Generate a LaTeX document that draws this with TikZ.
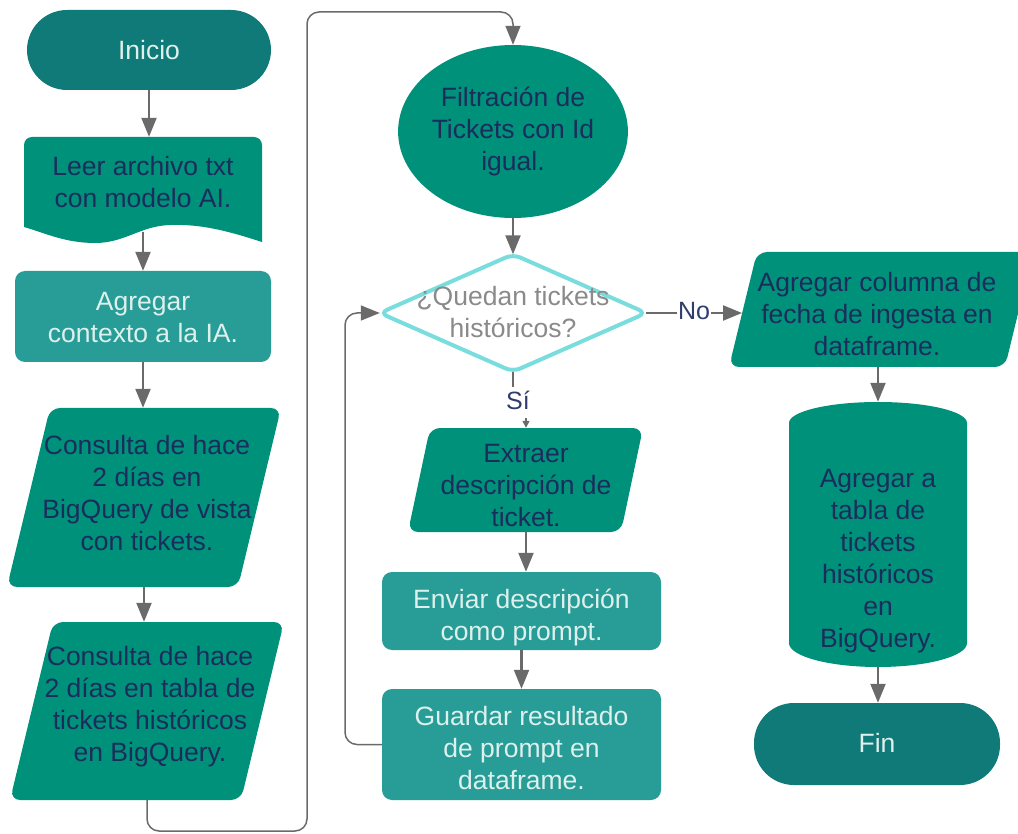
\documentclass[tikz,border=0pt]{standalone}
\usepackage{fontspec}
\setmainfont{Liberation Sans}
\usetikzlibrary{shapes.geometric,arrows.meta,calc}
\definecolor{cDark}{HTML}{107A78}
\definecolor{cMain}{HTML}{00917A}
\definecolor{cLight}{HTML}{289D98}
\definecolor{tNavy}{HTML}{1B2D5C}
\definecolor{tLight}{HTML}{DDF0EC}
\definecolor{cCyan}{HTML}{7ADDDD}
\definecolor{cGray}{HTML}{6A6A6A}
\definecolor{tGray}{HTML}{8A8A8A}
\definecolor{tLabel}{HTML}{2F3C6E}
\begin{document}
\begin{tikzpicture}[x=1pt,y=1pt,
  every node/.style={font=\fontsize{26.5}{32}\selectfont, align=center, inner sep=0pt},
  term/.style={fill=cDark, text=tLight, rounded corners=40},
  proc/.style={fill=cLight, rounded corners=10},
  frame/.style={draw=none},
  dtext/.style={text=tNavy},
  ltext/.style={text=tLight},
  gtext/.style={text=tGray},
  conn/.style={draw=cGray, line width=2.2pt, -{Triangle[width=15pt,length=19pt]}},
  loopc/.style={draw=cGray, line width=1.5pt, rounded corners=12, -{Triangle[width=15pt,length=19pt]}},
  plain/.style={draw=cGray, line width=2.2pt},
  lbl/.style={fill=white, text=tLabel, inner sep=1pt, font=\fontsize{25}{30}\selectfont}
]
\useasboundingbox (0,0) rectangle (1018,-834);

% ---------- left column ----------
\node[term, minimum width=244, minimum height=80] (ini) at (149,-50) {Inicio};

\node[frame, minimum width=238, minimum height=105] (leer) at (143,-189.5) {};
\fill[cMain] (24,-227) [rounded corners=8] -- (24,-137) -- (262,-137) [sharp corners] -- (262,-242)
  .. controls (225,-230) and (200,-224) .. (170,-225)
  .. controls (140,-226) and (125,-243) .. (95,-243)
  .. controls (65,-243) and (45,-233) .. (24,-227) -- cycle;
\node[dtext] (leerT) at (143,-182) {Leer archivo txt\\con modelo AI.};
\coordinate (leerB) at (143,-232);

\node[proc, minimum width=256, minimum height=91] (ctx) at (143,-316.5) {};
\node[ltext] (ctxT) at (143,-318) {Agregar\\contexto a la IA.};

\node[frame, minimum width=274, minimum height=179] (c1) at (144,-497.5) {};
\fill[cMain, rounded corners=10] (50,-408) -- (281,-408) -- (238,-587) -- (7,-587) -- cycle;
\node[dtext] (c1T) at (147,-493) {Consulta de hace\\2 días en\\BigQuery de vista\\con tickets.};

\node[frame, minimum width=274, minimum height=178] (c2) at (147,-711) {};
\fill[cMain, rounded corners=10] (53,-622) -- (284,-622) -- (241,-800) -- (10,-800) -- cycle;
\node[dtext] (c2T) at (150,-707) {Consulta de hace\\2 días en tabla de\\tickets históricos\\en BigQuery.};

% ---------- middle column ----------
\node[ellipse, fill=cMain, text=tNavy, minimum width=220, minimum height=173] (fil) at (513,-131.5) {Filtración de\\Tickets con Id\\igual.};

\node[frame, minimum width=266, minimum height=117] (dia) at (513,-313) {};
\draw[cCyan, line width=4pt, fill=white, rounded corners=8] (dia.north) -- (dia.east) -- (dia.south) -- (dia.west) -- cycle;
\node[gtext] (diaT) at (513,-312) {¿Quedan tickets\\históricos?};

\node[frame, minimum width=235, minimum height=104] (ext) at (525.5,-480) {};
\fill[cMain, rounded corners=10] (430,-428) -- (643,-428) -- (621,-532) -- (408,-532) -- cycle;
\node[dtext] (extT) at (526,-486) {Extraer\\descripción de\\ticket.};

\node[proc, minimum width=279, minimum height=78] (env) at (521.5,-611) {};
\node[ltext] (envT) at (521.5,-617) {Enviar descripción\\como prompt.};
\node[proc, minimum width=279, minimum height=111] (gua) at (521.5,-744.5) {};
\node[ltext] (guaT) at (521.5,-748.5) {Guardar resultado\\de prompt en\\dataframe.};

% ---------- right column ----------
\node[frame, minimum width=290, minimum height=115] (col) at (873,-309.5) {};
\fill[cMain, rounded corners=10] (757,-252) -- (1033,-252) -- (1005,-367) -- (729,-367) -- cycle;
\node[dtext] (colT) at (877,-314) {Agregar columna de\\fecha de ingesta en\\dataframe.};

\node[frame, minimum width=178, minimum height=265] (cyl) at (878,-534.5) {};
\fill[cMain] (789,-423) -- (789,-643) arc[start angle=180, end angle=360, x radius=89, y radius=24]
  -- (967,-423) arc[start angle=0, end angle=180, x radius=89, y radius=21] -- cycle;
\node[dtext] (cylT) at (878,-561) {Agregar a\\tabla de\\tickets\\históricos\\en\\BigQuery.};

\node[term, minimum width=246, minimum height=82] (fin) at (877,-744) {};
\node[ltext] (finT) at (877,-743) {Fin};

% ---------- connectors ----------
\draw[conn] (ini.south) -- (ini.south |- leer.north);
\draw[conn] (leerB) -- (ctx.north);
\draw[conn] (ctx.south) -- (ctx.south |- c1.north);
\draw[conn] (c1.south) -- (c1.south |- c2.north);
\coordinate (b1) at (147,-831);
\coordinate (b2) at (307,-831);
\coordinate (b3) at (307,-12);
\coordinate (b4) at (513,-12);
\draw[loopc] (c2.south) -- (b1) -- (b2) -- (b3) -- (b4) -- (fil.north);

\draw[conn] (fil.south) -- (dia.north);

\coordinate (siA) at (513,-387);
\coordinate (siB) at (526,-418);
\draw[plain] (dia.south) -- (siA);
\node[lbl] (si) at (518,-400) {Sí};
\draw[draw=cGray, line width=1.5pt, -{Triangle[width=7pt,length=7pt]}] (siB) -- (siB |- ext.north);

\coordinate (colL) at (742,-313);
\draw[conn] (dia.east) -- (colL);
\node[lbl] (no) at (694,-311) {No};

\coordinate (l1) at (345,-744.5);
\coordinate (l2) at (345,-313);
\draw[loopc] (gua.west) -- (l1) -- (l2) -- (dia.west);

\draw[conn] (ext.south -| siB) -- (siB |- env.north);
\draw[conn] (env.south) -- (gua.north);
\draw[conn] (col.south -| cyl.north) -- (cyl.north);
\draw[conn] (cyl.south) -- (cyl.south |- fin.north);
\end{tikzpicture}
\end{document}
